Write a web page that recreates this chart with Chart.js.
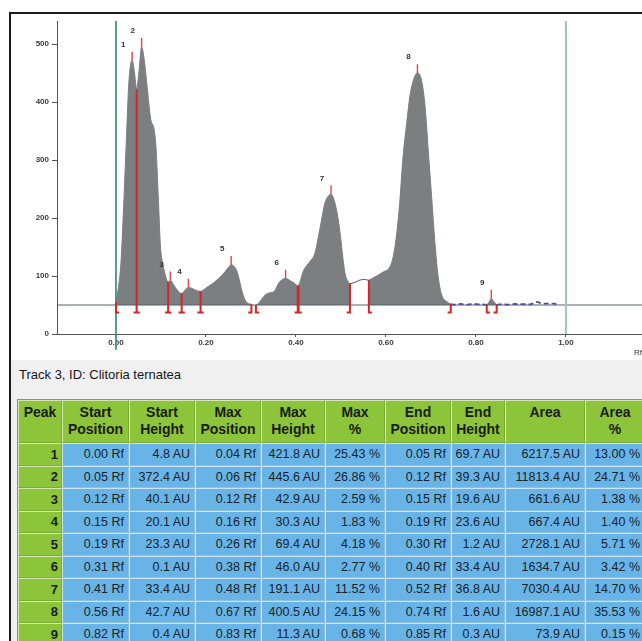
<!DOCTYPE html>
<html>
<head>
<meta charset="utf-8">
<title>Track 3, ID: Clitoria ternatea</title>
<script src="https://cdn.jsdelivr.net/npm/chart.js@4.4.1/dist/chart.umd.min.js"></script>
<style>
  html, body { margin:0; padding:0; width:642px; height:641px; overflow:hidden; background:#fff;
    font-family:"Liberation Sans", Arial, sans-serif; }
  #frame { position:absolute; left:9px; top:12px; width:700px; height:700px;
    border-top:2px solid #1c1c1c; border-left:2px solid #1c1c1c; z-index:3; pointer-events:none; }
  #plot { position:absolute; left:0; top:0; }
  #panel { position:absolute; left:11px; top:360px; width:640px; height:290px; background:#f0f0f0; }
  #track { position:absolute; left:19px; top:366px; font-size:13px; line-height:18px; color:#161616; }
  #peaks { position:absolute; left:17px; top:399px; border-collapse:separate; border-spacing:0;
    table-layout:fixed; width:627px; border:1px solid #8d8d8d; background:#cfdbe2; }
  #peaks th, #peaks td { overflow:hidden; white-space:nowrap; box-sizing:border-box; }
  #peaks th { background:#8cc43a; color:#1b1b1b; font-weight:bold; font-size:14px; line-height:17px;
    vertical-align:top; padding:3px 2px 0 2px; text-align:center; height:43px;
    border:1px solid #d6e6b4; border-right-color:#7faa36; border-bottom-color:#7faa36; }
  #peaks td { background:#68b4e6; color:#17232c; font-size:12.5px; text-align:right;
    padding:0 4px 0 2px; height:22.5px; border:1px solid #cfe4f2; border-right-color:#8fbfdc;
    border-bottom-color:#8fbfdc; }
  #peaks td.id { background:#8cc43a; font-weight:bold; font-size:13px; color:#1b1b1b;
    border:1px solid #d6e6b4; border-right-color:#7faa36; border-bottom-color:#7faa36; padding-right:3px; }
</style>
</head>
<body>
<div id="frame"></div>
<canvas id="plot" width="642" height="358"></canvas>
<div id="panel"></div>
<div id="track">Track 3, ID: Clitoria ternatea</div>
<table id="peaks">
  <colgroup>
    <col style="width:44px"><col style="width:67px"><col style="width:66px"><col style="width:66px">
    <col style="width:64px"><col style="width:60px"><col style="width:66px"><col style="width:54px">
    <col style="width:80px"><col style="width:60px">
  </colgroup>
  <thead><tr id="head"></tr></thead>
  <tbody id="rows"></tbody>
</table>

<script>
// ---- densitogram of track 3 (Rf vs. AU) ----
const profileRf = [
  0.000, 0.005, 0.011, 0.018, 0.024, 0.028, 0.032, 0.036, 0.041, 0.046,
  0.051, 0.057, 0.063, 0.070, 0.077, 0.085, 0.089, 0.094, 0.099, 0.104,
  0.109, 0.116, 0.121, 0.128, 0.136, 0.146, 0.152, 0.157, 0.161, 0.168,
  0.176, 0.188, 0.196, 0.205, 0.215, 0.224, 0.233, 0.242, 0.250, 0.256,
  0.262, 0.268, 0.272, 0.276, 0.280, 0.285, 0.290, 0.296, 0.301, 0.306,
  0.311, 0.316, 0.320, 0.326, 0.331, 0.337, 0.342, 0.351, 0.356, 0.361,
  0.368, 0.377, 0.387, 0.396, 0.404, 0.406, 0.411, 0.416, 0.424, 0.431,
  0.442, 0.450, 0.457, 0.464, 0.471, 0.478, 0.487, 0.494, 0.499, 0.504,
  0.509, 0.516, 0.520, 0.531, 0.542, 0.552, 0.562, 0.579, 0.594, 0.609,
  0.616, 0.624, 0.631, 0.638, 0.646, 0.653, 0.661, 0.670, 0.679, 0.687,
  0.694, 0.702, 0.709, 0.716, 0.724, 0.735, 0.744, 0.752, 0.760, 0.766,
  0.772, 0.780, 0.788, 0.796, 0.805, 0.814, 0.824, 0.829, 0.834, 0.840,
  0.846, 0.853, 0.861, 0.870, 0.878, 0.887, 0.896, 0.905, 0.914, 0.922,
  0.928, 0.934, 0.940, 0.946, 0.955, 0.965, 0.975, 0.980
];
const profileAU = [
  54.8, 78, 122, 237, 352, 425, 462, 471.8, 452, 422.4,
  452, 495.6, 472, 421, 372, 352, 322, 237, 150, 122,
  104, 89.3, 92.9, 85, 76, 69.8, 74, 79, 80.3, 79,
  76, 73.5, 77, 82, 87, 93, 99, 107, 115, 119.4,
  117, 110, 100, 87, 74, 62, 55, 52, 51.2, 50.5,
  50.1, 52, 56, 62, 67, 70, 71, 73, 79, 87,
  93, 96, 92, 88, 83.4, 84, 95, 108, 118, 125,
  139, 168, 197, 225, 237, 241.1, 225, 197, 168, 133,
  105, 90, 86.8, 89, 93, 94, 92.7, 100, 107, 116,
  133, 174, 231, 306, 363, 409, 438, 450.5, 438, 392,
  317, 231, 156, 99, 67, 56, 51.6, 50.6, 51.2, 51.8,
  51, 50.6, 51.5, 51.8, 51.2, 51, 50.4, 55, 61.3, 55.5,
  50.3, 51, 51.6, 50.8, 51.5, 51.8, 51.2, 51.6, 51, 51.4,
  53, 55.5, 54.5, 52.5, 52.5, 52.3, 52.5, 50.2
];
const baselineAU = 50;

// ---- peak table ----
const peakIds     = [1, 2, 3, 4, 5, 6, 7, 8, 9];
const startRf     = [0.000, 0.046, 0.116, 0.146, 0.188, 0.311, 0.406, 0.562, 0.824];
const startAU     = [4.8, 372.4, 40.1, 20.1, 23.3, 0.1, 33.4, 42.7, 0.4];
const maxRf       = [0.036, 0.057, 0.121, 0.161, 0.256, 0.377, 0.478, 0.670, 0.834];
const maxAU       = [421.8, 445.6, 42.9, 30.3, 69.4, 46.0, 191.1, 400.5, 11.3];
const maxPct      = [25.43, 26.86, 2.59, 1.83, 4.18, 2.77, 11.52, 24.15, 0.68];
const endRf       = [0.046, 0.116, 0.146, 0.188, 0.301, 0.404, 0.520, 0.744, 0.846];
const endAU       = [69.7, 39.3, 19.6, 23.6, 1.2, 33.4, 36.8, 1.6, 0.3];
const areaAU      = [6217.5, 11813.4, 661.6, 667.4, 2728.1, 1634.7, 7030.4, 16987.1, 73.9];
const areaPct     = [13.00, 24.71, 1.38, 1.40, 5.71, 3.42, 14.70, 35.53, 0.15];

// ---- axes ----
const xTicks = [0, 0.2, 0.4, 0.6, 0.8, 1.0];
const yTicks = [0, 100, 200, 300, 400, 500];
const xRange = [-0.131, 1.169];
const yRange = [0, 540];
const trackStart = 0.0, trackEnd = 1.0;

// ---- table ----
const headers = [['Peak'], ['Start', 'Position'], ['Start', 'Height'], ['Max', 'Position'], ['Max', 'Height'],
                 ['Max', '%'], ['End', 'Position'], ['End', 'Height'], ['Area'], ['Area', '%']];
document.getElementById('head').innerHTML = headers.map(h => '<th>' + h.join('<br>') + '</th>').join('');
const rf = v => v.toFixed(2) + ' Rf';
const au = v => v.toFixed(1) + ' AU';
const pc = v => v.toFixed(2) + ' %';
document.getElementById('rows').innerHTML = peakIds.map((id, i) =>
  '<tr><td class="id">' + id + '</td>' +
  [rf(startRf[i]), au(startAU[i]), rf(maxRf[i]), au(maxAU[i]), pc(maxPct[i]),
   rf(endRf[i]), au(endAU[i]), au(areaAU[i]), pc(areaPct[i])].map(t => '<td>' + t + '</td>').join('') +
  '</tr>').join('');

// ---- chart data ----
const inside = x => peakIds.some((_, i) => x > startRf[i] && x < endRf[i]);
const within = x => peakIds.some((_, i) => x >= startRf[i] - 1e-9 && x <= endRf[i] + 1e-9);

const filledPts = profileRf.map((x, k) => ({ x, y: within(x) ? profileAU[k] : null }));
const tracePts  = profileRf.map((x, k) => ({ x, y: (!inside(x) && x >= endRf[6]) || (x > endRf[4] && x < startRf[5]) ? profileAU[k] : null }));

const FOOT = 0.007, DROP = baselineAU - 13, TICK = 15;
const boundPts = [];
peakIds.forEach((_, i) => {
  boundPts.push({ x: startRf[i], y: baselineAU + startAU[i] }, { x: startRf[i], y: DROP },
                { x: startRf[i] + FOOT, y: DROP }, { x: startRf[i], y: null });
  boundPts.push({ x: endRf[i], y: baselineAU + endAU[i] }, { x: endRf[i], y: DROP },
                { x: endRf[i] - FOOT, y: DROP }, { x: endRf[i], y: null });
});
const maxPts = [];
peakIds.forEach((_, i) => {
  maxPts.push({ x: maxRf[i], y: baselineAU + maxAU[i] }, { x: maxRf[i], y: baselineAU + maxAU[i] + TICK },
              { x: maxRf[i], y: null });
});

const peakLabels = {
  id: 'peakLabels',
  afterDatasetsDraw(chart) {
    const { ctx, scales: { x, y } } = chart;
    ctx.save();
    ctx.font = 'bold 8px "Liberation Sans", Arial, sans-serif';
    ctx.fillStyle = '#2f333d';
    ctx.textAlign = 'center';
    ctx.textBaseline = 'middle';
    peakIds.forEach((id, i) => {
      const px = x.getPixelForValue(maxRf[i]) - 9;
      const py = y.getPixelForValue(baselineAU + maxAU[i] + TICK) - 7;
      ctx.fillText(String(id), px, py);
    });
    ctx.restore();
  }
};

const whiteBg = {
  id: 'whiteBg',
  beforeDraw(chart) {
    const c = chart.ctx; c.save(); c.fillStyle = '#fff'; c.fillRect(0, 0, chart.width, chart.height); c.restore();
  }
};

Chart.defaults.font.family = '"Liberation Sans", Arial, sans-serif';
new Chart(document.getElementById('plot'), {
  type: 'line',
  data: {
    datasets: [
      { label: 'peaks', data: filledPts, order: 6, spanGaps: false, fill: { value: baselineAU },
        backgroundColor: '#7b7f82', borderColor: '#7b7f82', borderWidth: 1, pointRadius: 0,
        cubicInterpolationMode: 'monotone' },
      { label: 'baseline', data: [{ x: xRange[0], y: baselineAU }, { x: xRange[1], y: baselineAU }],
        order: 5, borderColor: '#56606c', borderWidth: 1, pointRadius: 0, fill: false },
      { label: 'trace', data: tracePts, order: 4, spanGaps: false, borderColor: '#4a4f9c', borderWidth: 1,
        pointRadius: 0, fill: false, cubicInterpolationMode: 'monotone',
        segment: { borderDash: c => c.p0.parsed.x >= endRf[7] ? [5, 3] : undefined,
                   borderWidth: c => c.p0.parsed.x >= endRf[7] ? 1.8 : 1 } },
      { label: 'start', data: [{ x: trackStart, y: yRange[1] }, { x: trackStart, y: -27 }], order: 3,
        borderColor: '#3f8e8e', borderWidth: 1, pointRadius: 0, fill: false, clip: false },
      { label: 'front', data: [{ x: trackEnd, y: yRange[1] }, { x: trackEnd, y: 0 }], order: 3,
        borderColor: '#9cc6c6', borderWidth: 2, pointRadius: 0, fill: false },
      { label: 'bounds', data: boundPts, order: 2, spanGaps: false, borderColor: '#d42626', borderWidth: 2,
        pointRadius: 0, fill: false, clip: false },
      { label: 'maxima', data: maxPts, order: 1, spanGaps: false, borderColor: '#e04444', borderWidth: 1.4,
        pointRadius: 0, fill: false, clip: false }
    ]
  },
  options: {
    responsive: false,
    animation: false,
    devicePixelRatio: 1,
    layout: { padding: { top: 21, left: 0, right: 0, bottom: 0 } },
    plugins: { legend: { display: false }, tooltip: { enabled: false } },
    scales: {
      x: {
        type: 'linear', min: xRange[0], max: xRange[1],
        afterBuildTicks: s => { s.ticks = xTicks.map(v => ({ value: v })); },
        afterFit: s => { s.height = 24; },
        ticks: { callback: v => Number(v).toFixed(2), font: { size: 8, weight: 'bold' }, color: '#3c3c3c',
                 padding: 1, maxRotation: 0, autoSkip: false },
        grid: { drawOnChartArea: false, tickLength: 3, color: '#555' },
        border: { color: '#555', width: 1 },
        title: { display: true, text: 'Rf', align: 'end', font: { size: 8 }, color: '#333', padding: 0 }
      },
      y: {
        type: 'linear', min: yRange[0], max: yRange[1],
        afterBuildTicks: s => { s.ticks = yTicks.map(v => ({ value: v })); },
        afterFit: s => { s.width = 57; },
        ticks: { font: { size: 8, weight: 'bold' }, color: '#3c3c3c', padding: 3 },
        grid: { drawOnChartArea: false, tickLength: 5, color: '#555' },
        border: { color: '#555', width: 1 }
      }
    }
  },
  plugins: [whiteBg, peakLabels]
});
</script>
</body>
</html>
